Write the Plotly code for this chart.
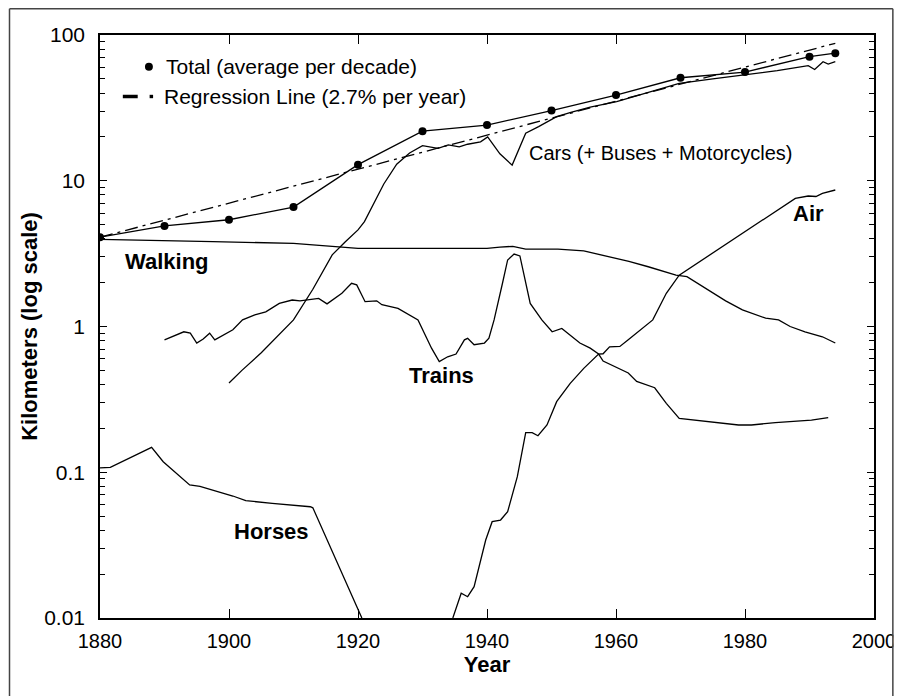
import plotly.graph_objects as go

# ---------------- data ----------------
total_years = [1880, 1890, 1900, 1910, 1920, 1930, 1940, 1950, 1960, 1970, 1980, 1990, 1994]
total_vals = [4.1, 4.9, 5.4, 6.6, 12.9, 21.9, 24.1, 30.3, 38.7, 50.9, 55.7, 71.0, 75.0]

regression_years = [1880, 1994]
regression_vals = [4.1, 87.7]

cars_years = [1900, 1902, 1905, 1908, 1910, 1913, 1916, 1918, 1920, 1921, 1922.5, 1924, 1926,
              1928, 1930, 1932.4, 1934, 1935.7, 1937, 1939, 1940.1, 1941, 1942, 1943.9, 1946,
              1948, 1950.8, 1953, 1956, 1960.1, 1965, 1969.8, 1975, 1980.1, 1985, 1989.8,
              1990.8, 1992.1, 1992.9, 1994]
cars_vals = [0.41, 0.5, 0.66, 0.9, 1.11, 1.8, 3.1, 3.8, 4.6, 5.24, 7.0, 9.5, 13.0,
             15.5, 17.4, 16.7, 17.6, 17.1, 17.8, 18.5, 20.0, 17.5, 15.3, 12.8, 21.2,
             23.5, 27.5, 29.5, 32.0, 34.9, 40.5, 46.6, 50.0, 53.2, 57.0, 61.6,
             58.0, 65.6, 63.2, 65.6]

walking_years = [1880, 1890, 1897.5, 1910, 1920, 1930, 1935, 1940, 1942, 1944, 1946, 1951,
                 1955, 1958.5, 1962, 1965, 1969.3, 1971, 1974.4, 1977, 1979.6, 1983.2,
                 1985.2, 1987, 1989.3, 1992, 1994]
walking_vals = [3.96, 3.9, 3.82, 3.72, 3.44, 3.44, 3.44, 3.44, 3.5, 3.55, 3.4, 3.4,
                3.3, 3.05, 2.8, 2.57, 2.25, 2.2, 1.78, 1.5, 1.3, 1.14,
                1.11, 1.0, 0.92, 0.85, 0.77]

trains_years = [1890, 1891.5, 1893, 1894, 1895, 1896, 1897, 1897.8, 1899, 1900.6, 1902.1,
                1904, 1905.7, 1907.8, 1909.8, 1911, 1913.9, 1915.2, 1917.5, 1919, 1919.8,
                1921.1, 1922.9, 1923.7, 1926.2, 1929.3, 1931.4, 1932.6, 1933.9, 1935.2,
                1936.5, 1937, 1938, 1939.6, 1940.3, 1941.1, 1942.4, 1943.2, 1944.2, 1945.1,
                1946.7, 1948.5, 1950.1, 1951.6, 1954.4, 1956, 1957.3, 1958, 1961.9, 1963.2,
                1966, 1967.8, 1969.8, 1976, 1979, 1981, 1984.7, 1990.3, 1992.9]
trains_vals = [0.81, 0.86, 0.92, 0.9, 0.77, 0.82, 0.9, 0.81, 0.87, 0.95, 1.11,
               1.2, 1.26, 1.44, 1.52, 1.5, 1.56, 1.43, 1.69, 1.98, 1.93,
               1.48, 1.5, 1.41, 1.33, 1.11, 0.71, 0.574, 0.62, 0.647,
               0.81, 0.83, 0.75, 0.77, 0.83, 1.11, 1.98, 2.86, 3.14, 3.05,
               1.44, 1.11, 0.92, 0.97, 0.77, 0.71, 0.647, 0.58, 0.48, 0.42,
               0.38, 0.297, 0.234, 0.217, 0.211, 0.211, 0.219, 0.228, 0.237]

air_years = [1934.7, 1936, 1937, 1938, 1939.8, 1940.8, 1942.1, 1943.2, 1944.7, 1946, 1947,
             1947.9, 1949.3, 1950.8, 1952.9, 1955, 1957.3, 1958, 1959, 1960.6, 1961.9,
             1963.5, 1965.7, 1967.8, 1969.8, 1987.8, 1989.8, 1991, 1992, 1994]
air_vals = [0.01, 0.0148, 0.014, 0.0164, 0.0343, 0.0458, 0.047, 0.0536, 0.0933, 0.187, 0.187,
            0.178, 0.211, 0.305, 0.407, 0.516, 0.647, 0.65, 0.726, 0.73, 0.81,
            0.93, 1.11, 1.69, 2.25, 7.57, 7.86, 7.8, 8.2, 8.64]

horses_years = [1880, 1881.6, 1888, 1889.8, 1893.9, 1895.5, 1900.6, 1902.6, 1906.7, 1912.6,
                1913, 1917.3, 1919.8, 1920.6]
horses_vals = [0.107, 0.108, 0.148, 0.118, 0.0818, 0.08, 0.0687, 0.0638, 0.0612, 0.058,
               0.057, 0.0213, 0.012, 0.01]

x_tick_vals = [1880, 1900, 1920, 1940, 1960, 1980, 2000]
x_tick_text = ["1880", "1900", "1920", "1940", "1960", "1980", "2000"]
y_tick_vals = [0.01, 0.1, 1, 10, 100]
y_tick_text = ["0.01", "0.1", "1", "10", "100"]

# ---------------- layout geometry ----------------
# The page body has an 8px margin, so the figure is 900x688 and page
# coordinates are converted by subtracting OFF.
OFF = 8
W, H = 900, 688
ML, MR, MT, MB = 92, 28, 27, 78
PW, PH = W - ML - MR, H - MT - MB
FONT = "Liberation Sans, Arial, sans-serif"


def px(xp):
    return (xp - OFF - ML) / PW


def py(yp):
    return (H - MB - (yp - OFF)) / PH


LINE = dict(color="black", width=1.3)

fig = go.Figure()
for name, xs, ys in [("Horses", horses_years, horses_vals),
                     ("Trains", trains_years, trains_vals),
                     ("Walking", walking_years, walking_vals),
                     ("Air", air_years, air_vals),
                     ("Cars (+ Buses + Motorcycles)", cars_years, cars_vals)]:
    fig.add_trace(go.Scatter(x=xs, y=ys, mode="lines", name=name, line=LINE,
                             showlegend=False))

fig.add_trace(go.Scatter(x=regression_years, y=regression_vals, mode="lines",
                         name="Regression Line (2.7% per year)",
                         line=dict(color="black", width=1.3, dash="13px,5px,3px,5px"),
                         showlegend=False))
fig.add_trace(go.Scatter(x=total_years, y=total_vals, mode="lines+markers",
                         name="Total (average per decade)", line=LINE,
                         marker=dict(color="black", size=8, symbol="circle"),
                         showlegend=False))

minor_vals = [m * 10 ** e for e in range(-2, 2) for m in range(2, 10)]

fig.update_xaxes(range=[1880, 2000], tickvals=x_tick_vals, ticktext=x_tick_text,
                 ticks="inside", ticklen=9, tickwidth=1.3, tickcolor="black",
                 showline=True, linecolor="black", linewidth=1.5, mirror="ticks",
                 showgrid=False, zeroline=False, ticklabelstandoff=4,
                 tickfont=dict(family=FONT, size=20, color="black"),
                 title=dict(text="<b>Year</b>", font=dict(family=FONT, size=22, color="black"),
                            standoff=4))
fig.update_yaxes(type="log", range=[-2, 2], tickvals=y_tick_vals, ticktext=y_tick_text,
                 ticks="inside", ticklen=7, tickwidth=1.3, tickcolor="black",
                 minor=dict(tickvals=minor_vals, ticks="inside", ticklen=5,
                            tickwidth=1.3, tickcolor="black", showgrid=False),
                 showline=True, linecolor="black", linewidth=1.5, mirror="ticks",
                 showgrid=False, zeroline=False, ticklabelstandoff=9,
                 tickfont=dict(family=FONT, size=21, color="black"),
                 title=dict(text="<b>Kilometers (log scale)</b>",
                            font=dict(family=FONT, size=22, color="black"), standoff=0))

annots = [
    ("Walking", 168, 261, "center", 22, True),
    ("Trains", 444, 375, "center", 22, True),
    ("Horses", 273, 531, "center", 22, True),
    ("Air", 814, 213, "center", 22, True),
    ("Cars (+ Buses + Motorcycles)", 530, 152.5, "left", 20, False),
    ("Total (average per decade)", 164, 66, "left", 21, False),
    ("Regression Line (2.7% per year)", 162, 96, "left", 21, False),
]
for txt, ax, ay, anchor, size, bold in annots:
    fig.add_annotation(x=px(ax), y=py(ay), xref="paper", yref="paper",
                       text=f"<b>{txt}</b>" if bold else txt, showarrow=False,
                       xanchor=anchor, yanchor="middle",
                       font=dict(family=FONT, size=size, color="black"))

shapes = [
    # legend keys
    dict(type="circle", xref="paper", yref="paper", x0=px(145.3), x1=px(153.3),
         y0=py(70.7), y1=py(62.7), fillcolor="black", line=dict(width=0)),
    dict(type="line", xref="paper", yref="paper", x0=px(123), x1=px(138),
         y0=py(96.5), y1=py(96.5), line=dict(color="black", width=3.5)),
    dict(type="rect", xref="paper", yref="paper", x0=px(150), x1=px(153.5),
         y0=py(98.2), y1=py(94.8), fillcolor="black", line=dict(width=0)),
    # page frame (clips the "2000" label on the right)
    dict(type="rect", xref="paper", yref="paper", x0=px(899.5), x1=px(912),
         y0=py(700), y1=py(0), fillcolor="white", line=dict(width=0), layer="above"),
    dict(type="line", xref="paper", yref="paper", x0=px(8.8), x1=px(8.8),
         y0=py(8.8), y1=py(700), line=dict(color="#444", width=1.5), layer="above"),
    dict(type="line", xref="paper", yref="paper", x0=px(8.8), x1=px(899),
         y0=py(8.8), y1=py(8.8), line=dict(color="#444", width=1.5), layer="above"),
    dict(type="line", xref="paper", yref="paper", x0=px(899), x1=px(899),
         y0=py(8.8), y1=py(700), line=dict(color="#444", width=1.5), layer="above"),
]
fig.update_layout(shapes=shapes, width=W, height=H,
                  margin=dict(l=ML, r=MR, t=MT, b=MB, pad=0),
                  paper_bgcolor="white", plot_bgcolor="white",
                  font=dict(family=FONT, color="black"), showlegend=False)

fig.write_html("out.html")
